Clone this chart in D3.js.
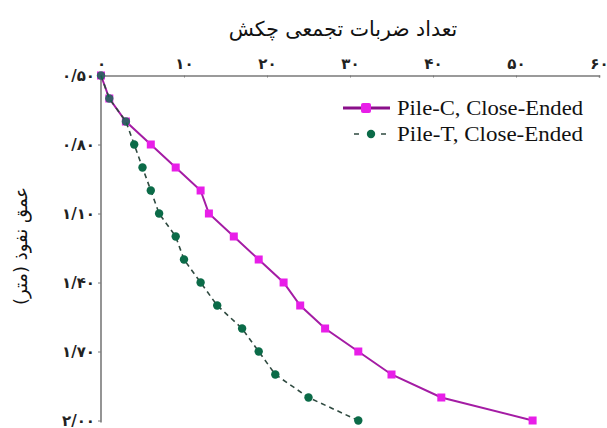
<!DOCTYPE html>
<html>
<head>
<meta charset="utf-8">
<script src="https://cdn.jsdelivr.net/npm/d3@7"></script>
<style>
  html, body { margin: 0; padding: 0; background: #ffffff; }
  svg { display: block; }
</style>
</head>
<body>
<svg id="chart" width="607" height="428"></svg>
<script>
// ---- data ----
const seriesNames = ["Pile-C, Close-Ended", "Pile-T, Close-Ended"];
const pileCBlows = [0, 1, 3, 6, 9, 12, 13, 16, 19, 22, 24, 27, 31, 35, 41, 52];
const pileCDepth = [0.5, 0.6, 0.7, 0.8, 0.9, 1.0, 1.1, 1.2, 1.3, 1.4, 1.5, 1.6, 1.7, 1.8, 1.9, 2.0];
const pileTBlows = [0, 1, 3, 4, 5, 6, 7, 9, 10, 12, 14, 17, 19, 21, 25, 31];
const pileTDepth = [0.5, 0.6, 0.7, 0.8, 0.9, 1.0, 1.1, 1.2, 1.3, 1.4, 1.5, 1.6, 1.7, 1.8, 1.9, 2.0];
const xTicks = [0, 10, 20, 30, 40, 50, 60];
const yTicks = [0.5, 0.8, 1.1, 1.4, 1.7, 2.0];
const xTitle = "تعداد ضربات تجمعی چکش";
const yTitle = "عمق نفوذ (متر)";

const faDigits = "۰۱۲۳۴۵۶۷۸۹";
const toFa = s => String(s).replace(/[0-9]/g, d => faDigits[+d]).replace(/\./g, "/");

const svg = d3.select("#chart");
const x = d3.scaleLinear().domain([0, 60]).range([101, 599]);
const y = d3.scaleLinear().domain([0.5, 2.0]).range([75.5, 420.5]);

const pileC = pileCBlows.map((b, i) => ({x: b, y: pileCDepth[i]}));
const pileT = pileTBlows.map((b, i) => ({x: b, y: pileTDepth[i]}));

// axes
const xAxis = d3.axisTop(x).tickValues(xTicks).tickSize(-2).tickPadding(7)
  .tickFormat(d => toFa(d));
const gx = svg.append("g").attr("transform", "translate(0,75.5)").call(xAxis);
gx.select(".domain").attr("stroke", "#7a7a7a").attr("stroke-width", 1.6);
gx.selectAll(".tick line").attr("stroke", "#7a7a7a");
gx.selectAll("text").attr("font-family", "DejaVu Sans").attr("font-size", 15)
  .attr("font-weight", "bold").attr("fill", "#222");

const yAxis = d3.axisLeft(y).tickValues(yTicks).tickSize(3).tickPadding(3)
  .tickFormat(d => toFa(d3.format(".2f")(d)));
const gy = svg.append("g").attr("transform", "translate(101,0)").call(yAxis);
gy.select(".domain").attr("stroke", "#7a7a7a").attr("stroke-width", 1.6)
  .attr("d", `M0,${y(0.5)}V${y(2.0) + 2}`);
gy.selectAll(".tick line").attr("stroke", "#7a7a7a");
gy.selectAll("text").attr("font-family", "DejaVu Sans").attr("font-size", 15)
  .attr("font-weight", "bold").attr("fill", "#222").attr("direction", "ltr");

// titles
svg.append("text").attr("x", 343).attr("y", 36).attr("text-anchor", "middle")
  .attr("font-family", "DejaVu Sans").attr("font-size", 20.5).attr("fill", "#111")
  .text(xTitle);
svg.append("text").attr("transform", "translate(27,246) rotate(-90)")
  .attr("text-anchor", "middle").attr("font-family", "DejaVu Sans")
  .attr("font-size", 18).attr("fill", "#111").text(yTitle);

// lines
const line = d3.line().x(d => x(d.x)).y(d => y(d.y));
svg.append("path").datum(pileC).attr("d", line).attr("fill", "none")
  .attr("stroke", "#a41ca4").attr("stroke-width", 2);
svg.selectAll(".mc").data(pileC).enter().append("rect")
  .attr("x", d => x(d.x) - 4).attr("y", d => y(d.y) - 4)
  .attr("width", 8).attr("height", 8).attr("fill", "#e81ee8");

svg.append("path").datum(pileT).attr("d", line).attr("fill", "none")
  .attr("stroke", "#2f4a40").attr("stroke-width", 1.6).attr("stroke-dasharray", "5,4");
svg.selectAll(".mt").data(pileT).enter().append("circle")
  .attr("cx", d => x(d.x)).attr("cy", d => y(d.y)).attr("r", 4.2)
  .attr("fill", "#0b6b48").attr("fill-opacity", d => d.x <= 3 ? 0.8 : 1);

// legend
const lg = svg.append("g");
lg.append("line").attr("x1", 343).attr("x2", 390).attr("y1", 108).attr("y2", 108)
  .attr("stroke", "#8a0f8a").attr("stroke-width", 3);
lg.append("rect").attr("x", 361).attr("y", 103).attr("width", 10).attr("height", 10)
  .attr("rx", 2).attr("fill", "#e81ee8");
lg.append("text").attr("x", 397).attr("y", 115).attr("font-family", "Liberation Serif")
  .attr("font-size", 20).attr("textLength", 186).attr("lengthAdjust", "spacingAndGlyphs")
  .attr("fill", "#111").text(seriesNames[0]);
lg.append("line").attr("x1", 354).attr("x2", 388).attr("y1", 134).attr("y2", 134)
  .attr("stroke", "#2f4a40").attr("stroke-width", 1.6).attr("stroke-dasharray", "5,8.5");
lg.append("circle").attr("cx", 371).attr("cy", 134).attr("r", 4.2).attr("fill", "#0b6b48");
lg.append("text").attr("x", 397).attr("y", 141).attr("font-family", "Liberation Serif")
  .attr("font-size", 20).attr("textLength", 186).attr("lengthAdjust", "spacingAndGlyphs")
  .attr("fill", "#111").text(seriesNames[1]);
</script>
</body>
</html>
